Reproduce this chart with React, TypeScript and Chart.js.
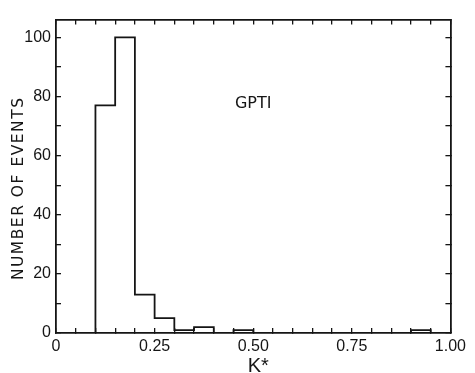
import React, { useEffect, useRef } from 'react';
import { Chart, registerables, LinearScale } from 'chart.js';

// ---- data ----
const binEdges = [0.1, 0.15, 0.2, 0.25, 0.3, 0.35, 0.4, 0.45, 0.5, 0.55, 0.6, 0.65, 0.7, 0.75, 0.8, 0.85, 0.9, 0.95];
const binCounts = [77, 100, 13, 5, 1, 2, 0, 1, 0, 0, 0, 0, 0, 0, 0, 0, 1];

const xTickValues = [0, 0.05, 0.1, 0.15, 0.2, 0.25, 0.3, 0.35, 0.4, 0.45, 0.5, 0.55, 0.6, 0.65, 0.7, 0.75, 0.8, 0.85, 0.9, 0.95, 1.0];
const xLabelValues = [0, 0.25, 0.5, 0.75, 1.0];
const xLabelTexts = ['0', '0.25', '0.50', '0.75', '1.00'];

const yTickValues = [0, 10, 20, 30, 40, 50, 60, 70, 80, 90, 100];
const yLabelValues = [0, 20, 40, 60, 80, 100];
const yLabelTexts = ['0', '20', '40', '60', '80', '100'];

const xTitle = 'K*';
const yTitle = 'NUMBER OF EVENTS';
const annotationText = 'GPTI';
const annotationX = 0.5;
const annotationY = 76;

const INK = '#151515';

// Linear scale whose title can be shifted / letter-spaced
const titleTweaks: Record<string, { dx: number; dy: number; spacing: string }> = {
  x: { dx: 5, dy: 0, spacing: '0px' },
  y: { dx: 1, dy: 12, spacing: '1.5px' },
};

class TitledLinearScale extends LinearScale {
  static id = 'titledLinear';
  static defaults = LinearScale.defaults;
  drawTitle() {
    const t = titleTweaks[this.id] || { dx: 0, dy: 0, spacing: '0px' };
    const ctx: any = this.ctx;
    ctx.save();
    ctx.translate(t.dx, t.dy);
    ctx.letterSpacing = t.spacing;
    // @ts-ignore
    super.drawTitle();
    ctx.restore();
  }
}

Chart.register(...registerables, TitledLinearScale);

const labelFor = (values: number[], texts: string[]) => (v: any) => {
  const n = Number(v);
  const i = values.findIndex((w) => Math.abs(w - n) < 1e-9);
  return i >= 0 ? texts[i] : '';
};

const annotationPlugin = {
  id: 'gptiLabel',
  afterDraw(chart: any) {
    const { ctx, scales } = chart;
    ctx.save();
    ctx.font = '16px "DejaVu Sans"';
    ctx.fillStyle = INK;
    ctx.textAlign = 'center';
    ctx.textBaseline = 'alphabetic';
    ctx.fillText(annotationText, scales.x.getPixelForValue(annotationX), scales.y.getPixelForValue(annotationY));
    ctx.restore();
  },
};

const gridCfg = { drawOnChartArea: false, drawTicks: true, tickLength: -5, color: INK, lineWidth: 1.3 };
const borderCfg = { display: true, color: INK, width: 1.8 };
const tickFont = { family: '"Liberation Sans", sans-serif', size: 16 };

export default function App() {
  const ref = useRef<HTMLCanvasElement | null>(null);
  useEffect(() => {
    if (!ref.current) return;
    const points: { x: number; y: number }[] = [{ x: binEdges[0], y: 0 }];
    binCounts.forEach((c, i) => points.push({ x: binEdges[i], y: c }));
    points.push({ x: binEdges[binEdges.length - 1], y: 0 });

    const chart = new Chart(ref.current, {
      type: 'line',
      data: {
        datasets: [
          {
            data: points,
            stepped: true,
            borderColor: INK,
            borderWidth: 1.8,
            pointRadius: 0,
            fill: false,
          } as any,
        ],
      },
      options: {
        animation: false,
        responsive: false,
        devicePixelRatio: 1,
        layout: { padding: { top: 12, right: 19, left: 0, bottom: 0 } },
        plugins: { legend: { display: false }, tooltip: { enabled: false } },
        scales: {
          x: {
            type: 'titledLinear' as any,
            axis: 'x',
            position: 'bottom',
            min: 0,
            max: 1,
            afterBuildTicks: (s: any) => { s.ticks = xTickValues.map((v) => ({ value: v })); },
            afterFit: (s: any) => { s.height = 40; },
            ticks: { autoSkip: false, maxRotation: 0, padding: 9, font: tickFont, color: INK, callback: labelFor(xLabelValues, xLabelTexts) },
            grid: gridCfg,
            border: borderCfg,
            title: { display: true, text: xTitle, color: INK, font: { family: '"Liberation Sans", sans-serif', size: 20, lineHeight: 1 }, padding: { top: 0, bottom: -3 } },
          } as any,
          x2: {
            type: 'linear',
            axis: 'x',
            position: 'top',
            min: 0,
            max: 1,
            afterBuildTicks: (s: any) => { s.ticks = xTickValues.map((v) => ({ value: v })); },
            afterFit: (s: any) => { s.height = 0; },
            ticks: { display: false, autoSkip: false },
            grid: gridCfg,
            border: borderCfg,
          } as any,
          y: {
            type: 'titledLinear' as any,
            axis: 'y',
            position: 'left',
            min: 0,
            max: 106,
            afterBuildTicks: (s: any) => { s.ticks = yTickValues.map((v) => ({ value: v })); },
            afterFit: (s: any) => { s.width = 56; },
            ticks: { autoSkip: false, padding: 10, font: tickFont, color: INK, callback: labelFor(yLabelValues, yLabelTexts) },
            grid: gridCfg,
            border: borderCfg,
            title: { display: true, text: yTitle, color: INK, font: { family: '"DejaVu Sans", sans-serif', size: 15.5 }, padding: { top: 9, bottom: 0 } },
          } as any,
          y2: {
            type: 'linear',
            axis: 'y',
            position: 'right',
            min: 0,
            max: 106,
            afterBuildTicks: (s: any) => { s.ticks = yTickValues.map((v) => ({ value: v })); },
            afterFit: (s: any) => { s.width = 0; },
            ticks: { display: false, autoSkip: false },
            grid: gridCfg,
            border: borderCfg,
          } as any,
        },
      },
      plugins: [annotationPlugin],
    });
    return () => chart.destroy();
  }, []);

  return (
    <div style={{ position: 'absolute', left: 0, top: 0, width: 475, height: 373, background: '#fff' }}>
      <canvas ref={ref} width={475} height={373} style={{ display: 'block', width: 475, height: 373 }} />
    </div>
  );
}
